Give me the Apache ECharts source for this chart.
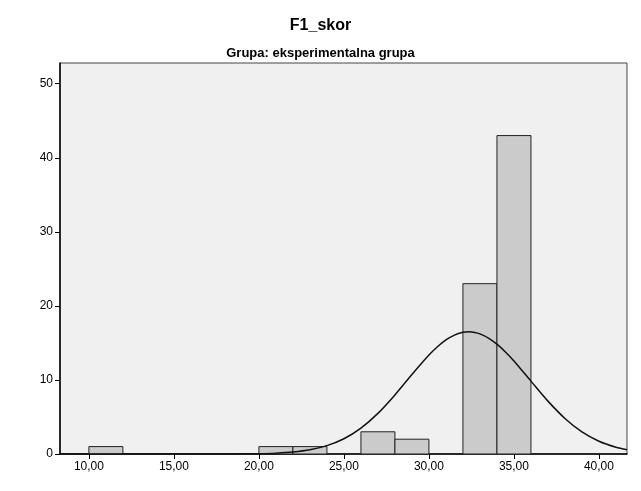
<!DOCTYPE html>
<html><head><meta charset="utf-8">
<script src="https://cdn.jsdelivr.net/npm/echarts@6/dist/echarts.min.js"></script>
<style>html,body{margin:0;padding:0;background:#fff;}#c{width:641px;height:491px;}</style>
</head><body><div id="c"></div>
<script>
const binStart = [10, 20, 22, 26, 28, 32, 34];
const binEnd   = [12, 22, 24, 28, 30, 34, 36];
const counts   = [1, 1, 1, 3, 2, 23, 43];
const curveX = [8.3, 10, 12, 14, 16, 17, 18, 19, 20, 21, 22, 23, 24, 25, 26, 27, 28, 29, 30, 30.5, 31, 31.5, 32, 32.34, 32.7, 33, 33.5, 34, 34.5, 35, 36, 37, 38, 39, 40, 41, 41.65];
const curveY = [0, 0, 0, 0, 0, 0.002, 0.006, 0.017, 0.047, 0.116, 0.27, 0.57, 1.13, 2.06, 3.5, 5.49, 7.98, 10.73, 13.36, 14.48, 15.4, 16.06, 16.43, 16.5, 16.42, 16.22, 15.66, 14.83, 13.78, 12.56, 9.84, 7.14, 4.8, 2.98, 1.72, 0.91, 0.58];
const xTicks = [10, 15, 20, 25, 30, 35, 40];
const yTicks = [0, 10, 20, 30, 40, 50];
const titleText = 'F1_skor';
const subtitleText = 'Grupa: eksperimentalna grupa';

const chart = echarts.init(document.getElementById('c'), null, {renderer: 'canvas'});
const font = 'Liberation Sans, Arial, sans-serif';
chart.setOption({
  animation: false,
  backgroundColor: '#ffffff',
  title: [
    {text: titleText, left: 'center', top: 13, textStyle: {fontFamily: font, fontSize: 16, fontWeight: 'bold', color: '#000'}},
    {text: subtitleText, left: 'center', top: 42, textStyle: {fontFamily: font, fontSize: 13, fontWeight: 'bold', color: '#000'}}
  ],
  grid: {left: 60, right: 14, top: 63, bottom: 37, show: true, backgroundColor: '#F0F0F0', borderColor: '#444', borderWidth: 1},
  xAxis: {
    type: 'value', min: 8.3, max: 41.65,
    axisLine: {show: true, onZero: false, lineStyle: {color: '#000', width: 1.5}},
    axisTick: {show: true, length: 5, lineStyle: {color: '#000'}, customValues: xTicks},
    axisLabel: {customValues: xTicks, color: '#000', fontFamily: font, fontSize: 12, margin: 7,
      formatter: v => v.toFixed(2).replace('.', ',')},
    splitLine: {show: false}
  },
  yAxis: {
    type: 'value', min: 0, max: 52.8,
    axisLine: {show: true, lineStyle: {color: '#000', width: 1.5}},
    axisTick: {show: true, length: 5, lineStyle: {color: '#000'}, customValues: yTicks},
    axisLabel: {customValues: yTicks, color: '#000', fontFamily: font, fontSize: 12, margin: 7},
    splitLine: {show: false}
  },
  series: [
    {
      type: 'custom',
      clip: true,
      data: counts.map((c, i) => [binStart[i], binEnd[i], c]),
      renderItem: function (params, api) {
        const p0 = api.coord([api.value(0), 0]);
        const p1 = api.coord([api.value(1), api.value(2)]);
        return {
          type: 'rect',
          shape: {x: p0[0], y: p1[1], width: p1[0] - p0[0], height: p0[1] - p1[1]},
          style: {fill: '#CBCBCB', stroke: '#222', lineWidth: 1}
        };
      },
      z: 2
    },
    {
      type: 'line',
      data: curveX.map((x, i) => [x, curveY[i]]),
      smooth: 0.3,
      showSymbol: false,
      lineStyle: {color: '#111', width: 1.5},
      z: 3
    }
  ]
});
</script>
</body></html>
